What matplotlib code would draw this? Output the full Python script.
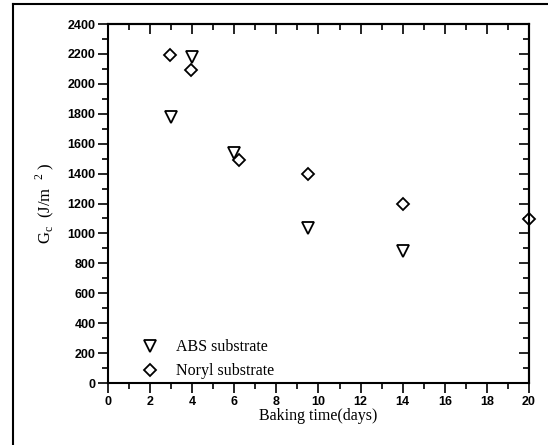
import matplotlib
matplotlib.use("Agg")
import matplotlib.pyplot as plt
from matplotlib.lines import Line2D
from matplotlib.ticker import MultipleLocator

# data
abs_days = [3.0, 4.0, 6.0, 9.5, 14.0]
abs_gc = [1780, 2180, 1535, 1035, 880]
noryl_days = [2.95, 3.95, 6.2, 9.5, 14.0, 20.0]
noryl_gc = [2190, 2090, 1490, 1395, 1195, 1095]

serif = ["Liberation Serif", "DejaVu Serif"]
sans = ["Liberation Sans", "DejaVu Sans"]

fig = plt.figure(figsize=(5.48, 4.45), dpi=100)
ax = fig.add_axes([0.1971, 0.1393, 0.7682, 0.8067])

ax.plot(abs_days, abs_gc, linestyle="none", marker="v", ms=9,
        mfc="white", mec="black", mew=1.3, label="ABS substrate")
ax.plot(noryl_days, noryl_gc, linestyle="none", marker="D", ms=6.3,
        mfc="white", mec="black", mew=1.3, label="Noryl substrate", clip_on=False)

ax.set_xlim(0, 20)
ax.set_ylim(0, 2400)
ax.xaxis.set_major_locator(MultipleLocator(2))
ax.xaxis.set_minor_locator(MultipleLocator(1))
ax.yaxis.set_major_locator(MultipleLocator(200))
ax.yaxis.set_minor_locator(MultipleLocator(100))

for s in ax.spines.values():
    s.set_linewidth(1.5)

# bottom/left ticks outward, mirrored top/right ticks inward
ax.tick_params(which="both", direction="out", width=1.2, top=False, right=False)
ax.tick_params(which="major", length=7, pad=2)
ax.tick_params(which="minor", length=4)
for lab in ax.get_xticklabels() + ax.get_yticklabels():
    lab.set_family(sans)
    lab.set_fontweight("bold")
    lab.set_fontsize(9)

sec_x = ax.secondary_xaxis("top")
sec_x.xaxis.set_major_locator(MultipleLocator(2))
sec_x.xaxis.set_minor_locator(MultipleLocator(1))
sec_x.tick_params(which="both", direction="in", width=1.2, labeltop=False)
sec_x.tick_params(which="major", length=7)
sec_x.tick_params(which="minor", length=4)
sec_x.spines["top"].set_linewidth(1.5)

sec_y = ax.secondary_yaxis("right")
sec_y.yaxis.set_major_locator(MultipleLocator(200))
sec_y.yaxis.set_minor_locator(MultipleLocator(100))
sec_y.tick_params(which="both", direction="in", width=1.2, labelright=False)
sec_y.tick_params(which="major", length=7)
sec_y.tick_params(which="minor", length=4)
sec_y.spines["right"].set_linewidth(1.5)

ax.set_xlabel("Baking time(days)", family=serif, fontsize=11.5, labelpad=0)
ax.set_ylabel(r"G$_{\mathregular{c}}$  (J/m  $^{\mathregular{2}}$ )", family=serif,
              fontsize=12, labelpad=8)

leg = ax.legend(loc="lower left", bbox_to_anchor=(0.04, -0.016), frameon=False,
                prop={"family": serif, "size": 11.5}, handletextpad=0.6,
                labelspacing=0.5, borderaxespad=0.2)

# scanned page frame
fig.add_artist(Line2D([13 / 548, 13 / 548], [0, 1 - 4 / 445], color="black", lw=1.5,
                      transform=fig.transFigure))
fig.add_artist(Line2D([13 / 548, 1], [1 - 4 / 445, 1 - 4 / 445], color="black", lw=1.5,
                      transform=fig.transFigure))

fig.savefig("out.png", dpi=100)
